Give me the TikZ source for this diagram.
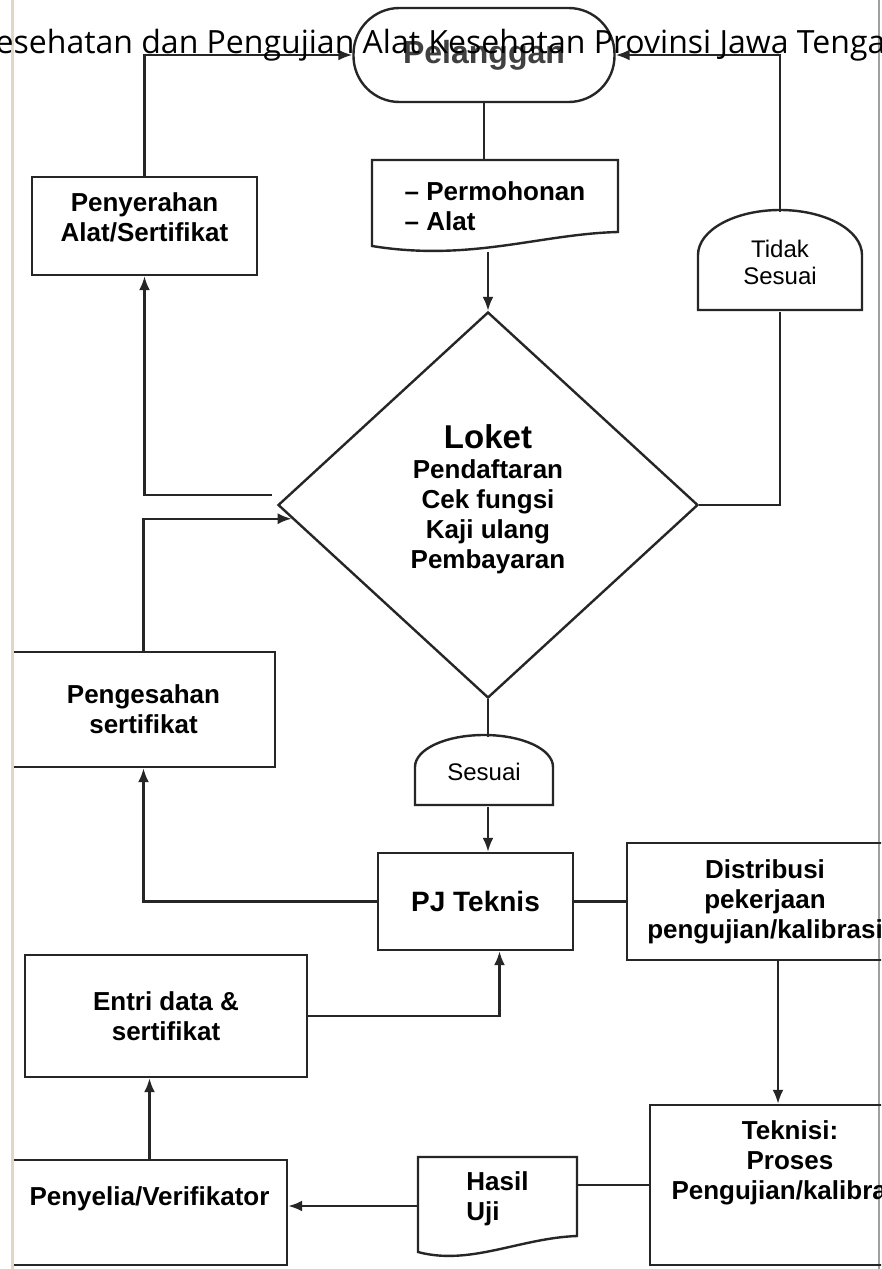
\documentclass[tikz,border=0pt]{standalone}
\usepackage{fontspec}
\setmainfont{Liberation Sans}
\newfontfamily\kopfont{Open Sans}
\usetikzlibrary{shapes.geometric,arrows.meta}
\definecolor{pageedge}{RGB}{226,214,196}
\definecolor{scanedge}{RGB}{160,160,160}
\newcommand{\boxfont}{\fontsize{26}{30}\selectfont\bfseries}
\newcommand{\tagfont}{\fontsize{24}{27}\selectfont}

\begin{document}
\begin{tikzpicture}[x=1pt, y=-1pt,
    flowline/.style={draw=black!85, line width=2.4pt},
    flowarrow/.style={flowline, -{Latex[length=14pt,width=11pt]}},
    procbox/.style={flowline, rectangle, inner sep=0pt, align=center, font=\boxfont},
    doctext/.style={inner sep=0pt, align=left, font=\boxfont},
    tagtext/.style={inner sep=0pt, align=center, font=\tagfont}]
      \useasboundingbox (0,0) rectangle (881,1269);
      \clip (0,0) rectangle (881,1269);
      \fill [white] (0,0) rectangle (881,1269);
      \draw [scanedge, line width=1.5pt] (879,0) -- (879,1269);
      %
      \node [procbox, rounded corners=46pt, minimum width=261pt, minimum height=94pt, font=\fontsize{32}{36}\selectfont\bfseries, text=black!75] (pelanggan) at (484,55) {Pelanggan};
      \node [doctext, minimum width=246pt, minimum height=92pt] (permohonan) at (495,206) {-- Permohonan\\-- Alat};
      \draw [flowline] (372,160) -- (618,160) -- (618,232) .. controls (540,234) and (470,262) .. (372,246) -- cycle;
      \node [procbox, minimum width=225pt, minimum height=98pt, text depth=18pt] (penyerahan) at (144.5,226) {Penyerahan\\Alat/Sertifikat};
      \node [tagtext, minimum width=164pt, minimum height=100pt] (tidak) at (780,262) {Tidak\\Sesuai};
      \draw [flowline] (698,310) -- (698,255) .. controls (698,230) and (735,210) .. (780,210) .. controls (825,210) and (862,230) .. (862,255) -- (862,310) -- cycle;
      %
      \node [diamond, flowline, minimum width=420pt, minimum height=386pt, inner sep=0pt, align=center, font=\boxfont, text depth=17pt] (loket) at (488,505) {{\fontsize{33}{36}\selectfont Loket}\\Pendaftaran\\Cek fungsi\\Kaji ulang\\Pembayaran};
      \coordinate (loketout) at (272,495);
      %
      \node [procbox, minimum width=263pt, minimum height=115pt] (pengesahan) at (143.5,709.5) {Pengesahan\\sertifikat};
      \node [tagtext, minimum width=138pt, minimum height=70pt] (sesuai) at (484,772) {Sesuai};
      \draw [flowline] (415,805) -- (415,767) .. controls (415,749) and (446,735) .. (484,735) .. controls (522,735) and (553,749) .. (553,767) -- (553,805) -- cycle;
      \node [procbox, minimum width=195pt, minimum height=97pt, font=\fontsize{28}{32}\selectfont\bfseries] (pjteknis) at (475.5,901.5) {PJ Teknis};
      \node [procbox, minimum width=276pt, minimum height=117pt] (distribusi) at (765,901.5) {Distribusi\\pekerjaan\\pengujian/kalibrasi};
      %
      \node [procbox, minimum width=282pt, minimum height=122pt] (entri) at (166,1016) {Entri data \&\\sertifikat};
      \node [procbox, minimum width=275pt, minimum height=105pt, text depth=33pt] (penyelia) at (149.5,1212.5) {Penyelia/Verifikator};
      \node [doctext, minimum width=159pt, minimum height=98pt, text depth=20pt] (hasil) at (497.5,1206) {Hasil\\Uji};
      \draw [flowline] (418,1157) -- (577,1157) -- (577,1236) .. controls (520,1238) and (470,1266) .. (418,1252) -- cycle;
      \node [procbox, minimum width=280pt, minimum height=160pt, text depth=50pt] (teknisi) at (790,1185) {Teknisi:\\Proses\\Pengujian/kalibrasi};
      %
      \draw [flowarrow] (penyerahan.north) |- (pelanggan.west);
      \draw [flowarrow] (tidak.north) |- (pelanggan.east);
      \draw [flowline] (pelanggan.south) -- (pelanggan.south |- permohonan.north);
      \draw [flowarrow] (permohonan.south -| loket.north) -- (loket.north);
      \draw [flowarrow] (loketout) -| (penyerahan.south);
      \draw [flowarrow] (pengesahan.north) |- (loket.184);
      \draw [flowline] (loket.east) -| (tidak.south);
      \draw [flowline] (loket.south) -- (loket.south |- sesuai.north);
      \draw [flowarrow] (loket.south |- sesuai.south) -- (loket.south |- pjteknis.north);
      \draw [flowarrow] (pjteknis.west) -| (pengesahan.south);
      \draw [flowline] (pjteknis.east) -- (distribusi.west);
      \draw [flowarrow] ([xshift=13pt]distribusi.south) -- ([xshift=13pt]distribusi.south |- teknisi.north);
      \draw [flowline] (teknisi.west) -- (teknisi.west -| hasil.east);
      \draw [flowarrow] (hasil.west) -- (hasil.west -| penyelia.east);
      \draw [flowarrow] (penyelia.north) -- (penyelia.north |- entri.south);
      \draw [flowarrow] (entri.east) -| ([xshift=24pt]pjteknis.south);
      %
      \draw [pageedge, line width=3pt] (12,0) -- (12,1269);
      \node [font=\kopfont\fontsize{32}{37}\selectfont, anchor=base, inner sep=0pt] (kop) at (440.5,53) {esehatan dan Pengujian Alat Kesehatan Provinsi Jawa Tenga};
\end{tikzpicture}
\end{document}
